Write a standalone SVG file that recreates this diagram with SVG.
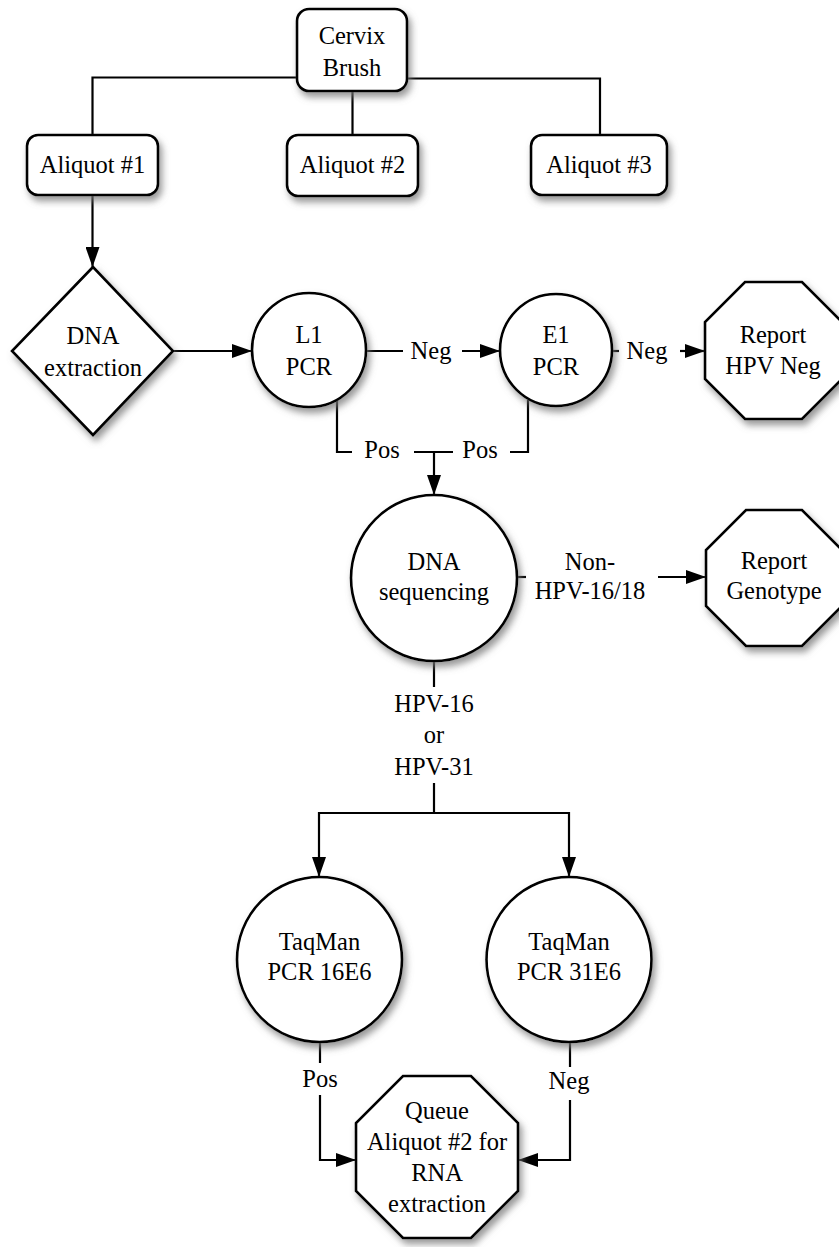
<svg xmlns="http://www.w3.org/2000/svg" width="839" height="1247" viewBox="0 0 839 1247">
<defs>
<style>
.n{fill:#fff;stroke:#000;stroke-width:2.6;filter:url(#sh)}
.t{font-family:'Liberation Serif','DejaVu Serif',serif;font-size:24.5px;fill:#000;text-anchor:middle}
.c{fill:none;stroke:#000;stroke-width:2.2}
.a{marker-end:url(#ah)}
</style>
<filter id="sh" x="-20%" y="-20%" width="150%" height="150%">
<feGaussianBlur in="SourceAlpha" stdDeviation="3.5" result="b"/>
<feOffset in="b" dx="3" dy="5" result="o"/>
<feFlood flood-color="#777" flood-opacity="0.75"/>
<feComposite in2="o" operator="in" result="s"/>
<feMerge><feMergeNode in="s"/><feMergeNode in="SourceGraphic"/></feMerge>
</filter>
<marker id="ah" markerUnits="userSpaceOnUse" markerWidth="20" markerHeight="14" refX="20" refY="7" orient="auto">
<path d="M0,0 L20,7 L0,14 z" fill="#000"/>
</marker>
</defs>
<rect width="839" height="1247" fill="#fff"/>
<g font-family="Liberation Serif, DejaVu Serif, serif">
<g id="connectors">
<polyline class="c" points="92.5,135 92.5,77.5 297,77.5"/>
<polyline class="c" points="407,78.5 600,78.5 600,135"/>
<line class="c" x1="352.5" y1="91" x2="352.5" y2="135"/>
<line class="c a" x1="92.5" y1="195" x2="92.5" y2="267"/>
<line class="c a" x1="173" y1="351" x2="252" y2="351"/>
<line class="c" x1="366" y1="351" x2="403" y2="351"/>
<line class="c a" x1="462" y1="351" x2="500" y2="351"/>
<line class="c" x1="612" y1="351" x2="619" y2="351"/>
<line class="c a" x1="680" y1="351" x2="705" y2="351"/>
<polyline class="c" points="337,400 337,452 352,452"/>
<line class="c" x1="414" y1="452" x2="453" y2="452"/>
<polyline class="c" points="510,452 528,452 528,400"/>
<line class="c a" x1="434" y1="452" x2="434" y2="495"/>
<line class="c" x1="517" y1="577" x2="526" y2="577"/>
<line class="c a" x1="658" y1="577" x2="706" y2="577"/>
<line class="c" x1="434" y1="661" x2="434" y2="687"/>
<line class="c" x1="434" y1="783" x2="434" y2="813"/>
<polyline class="c a" points="434,813 319,813 319,877"/>
<polyline class="c a" points="434,813 569,813 569,877"/>
<line class="c" x1="320" y1="1042" x2="320" y2="1063"/>
<polyline class="c a" points="320,1095 320,1160 356,1160"/>
<line class="c" x1="570" y1="1042" x2="570" y2="1067"/>
<polyline class="c a" points="570,1100 570,1160 518,1160"/>
<text class="t" x="431" y="359">Neg</text>
<text class="t" x="647" y="359">Neg</text>
<text class="t" x="382" y="458">Pos</text>
<text class="t" x="480" y="458">Pos</text>
<text class="t" x="590" y="570">Non-</text>
<text class="t" x="590" y="599">HPV-16/18</text>
<text class="t" x="434" y="712">HPV-16</text>
<text class="t" x="434" y="743">or</text>
<text class="t" x="434" y="775">HPV-31</text>
<text class="t" x="320" y="1087">Pos</text>
<text class="t" x="569" y="1089">Neg</text>
</g>
<g id="cervix">
<rect class="n" x="297" y="9" width="110" height="82" rx="12"/>
<text class="t" x="352" y="44">Cervix</text>
<text class="t" x="352" y="76">Brush</text>
</g>
<g id="aliquot1">
<rect class="n" x="27" y="135" width="131" height="60" rx="11"/>
<text class="t" x="92.5" y="173">Aliquot #1</text>
</g>
<g id="aliquot2">
<rect class="n" x="287" y="135" width="131" height="61" rx="11"/>
<text class="t" x="352.5" y="173">Aliquot #2</text>
</g>
<g id="aliquot3">
<rect class="n" x="531" y="135" width="136" height="60" rx="11"/>
<text class="t" x="599" y="173">Aliquot #3</text>
</g>
<g id="dna-extraction">
<polygon class="n" points="93,267 173,351 93,435 12,351"/>
<text class="t" x="93" y="344">DNA</text>
<text class="t" x="93" y="376">extraction</text>
</g>
<g id="l1pcr">
<circle class="n" cx="309" cy="350" r="57"/>
<text class="t" x="309" y="343">L1</text>
<text class="t" x="309" y="375">PCR</text>
</g>
<g id="e1pcr">
<circle class="n" cx="556" cy="350" r="56"/>
<text class="t" x="556" y="343">E1</text>
<text class="t" x="556" y="375">PCR</text>
</g>
<g id="report-neg">
<polygon class="n" points="745,282 802,282 842,322 842,379 802,419 745,419 705,379 705,322"/>
<text class="t" x="773" y="343">Report</text>
<text class="t" x="773" y="374">HPV Neg</text>
</g>
<g id="dna-seq">
<circle class="n" cx="434" cy="578" r="83"/>
<text class="t" x="434" y="570">DNA</text>
<text class="t" x="434" y="600">sequencing</text>
</g>
<g id="report-genotype">
<polygon class="n" points="746,510 802,510 842,550 842,606 802,646 746,646 706,606 706,550"/>
<text class="t" x="774" y="569">Report</text>
<text class="t" x="774" y="599">Genotype</text>
</g>
<g id="taqman16">
<circle class="n" cx="319.5" cy="959.5" r="82.5"/>
<text class="t" x="319.5" y="950">TaqMan</text>
<text class="t" x="319.5" y="980">PCR 16E6</text>
</g>
<g id="taqman31">
<circle class="n" cx="569" cy="959.5" r="82.5"/>
<text class="t" x="569" y="950">TaqMan</text>
<text class="t" x="569" y="980">PCR 31E6</text>
</g>
<g id="queue">
<polygon class="n" points="403,1076 471,1076 518,1123 518,1191 471,1238 403,1238 356,1191 356,1123"/>
<text class="t" x="437" y="1119">Queue</text>
<text class="t" x="437" y="1150">Aliquot #2 for</text>
<text class="t" x="437" y="1181">RNA</text>
<text class="t" x="437" y="1212">extraction</text>
</g>
</g>
</svg>
